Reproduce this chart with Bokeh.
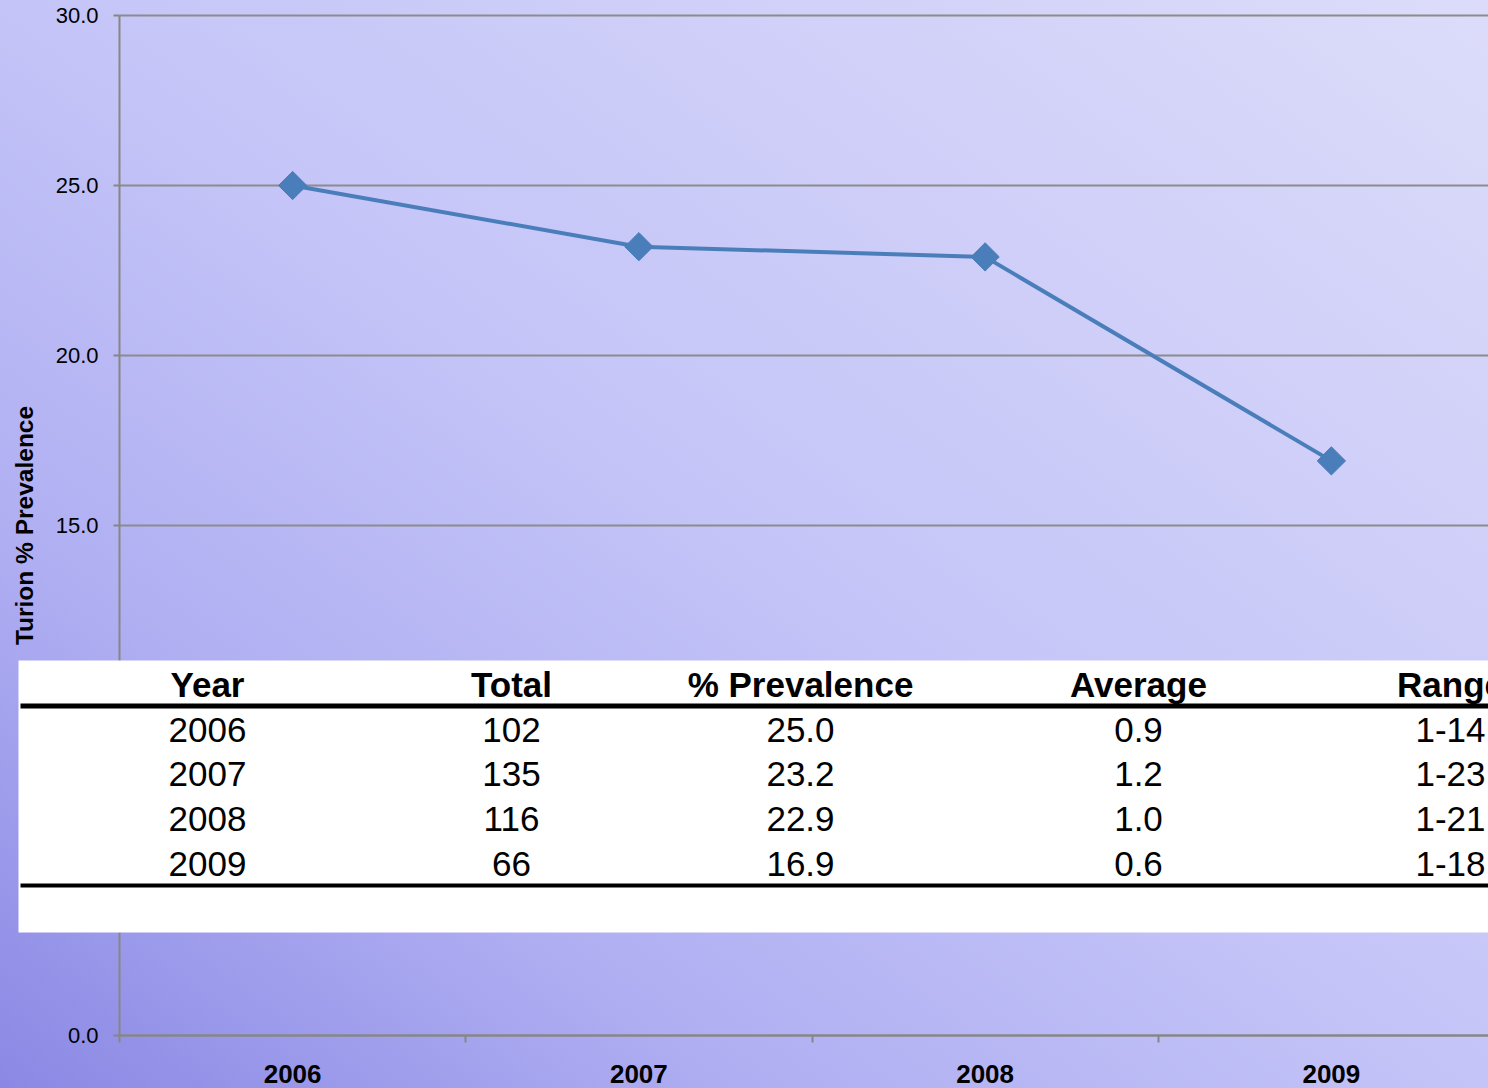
import numpy as np
from bokeh.plotting import figure
from bokeh.models import (Range1d, FixedTicker, BoxAnnotation, ColumnDataSource,
                          NumeralTickFormatter, LinearAxis, Grid)
from bokeh.core.properties import value
from bokeh.embed import file_html
from bokeh.resources import INLINE

# ---- data ----
years = ["2006", "2007", "2008", "2009"]
totals = [102, 135, 116, 66]
prevalence = [25.0, 23.2, 22.9, 16.9]
averages = [0.9, 1.2, 1.0, 0.6]
ranges_ = ["1-14", "1-23", "1-21", "1-18"]
headers = ["Year", "Total", "% Prevalence", "Average", "Range"]
y_ticks = [0, 5, 10, 15, 20, 25, 30]

# ---- layout (page pixels) ----
W, H = 1488, 1088
AX_X, AX_Y = 119, 1035   # pixel of (category start, y=0)
SLOT = 346.25            # px per category
YPX = 34.0               # px per y unit
FONT_NAME = "Liberation Sans"
FONT = value(FONT_NAME)
GRAY = "#868686"
GRID_COLOR = "#8c8c8c"

def dx(page_x):
    return (page_x - AX_X) / SLOT

def dy(page_y):
    return (AX_Y - page_y) / YPX

x_end = dx(W)

p = figure(width=W, height=H, output_backend="svg", toolbar_location=None,
           x_range=Range1d(dx(0), x_end), y_range=Range1d(dy(H), dy(0)),
           x_axis_location=None, y_axis_location=None,
           min_border=0,
           background_fill_color=None, border_fill_color=None,
           outline_line_color=None)
p.styles = {"background": "linear-gradient(to top right, #8a88e4 0%, #afaef2 25%, "
                          "#c4c4f8 50%, #d0d0f9 75%, #dcdcfa 100%)"}
# drop the default grids
p.center = [r for r in p.center if not isinstance(r, Grid)]

xs = [i + 0.5 for i in range(len(years))]
yticker = FixedTicker(ticks=y_ticks)

# horizontal grid lines, only to the right of the y axis
if "cross_bounds" in Grid.properties():
    p.add_layout(Grid(dimension=1, ticker=yticker, cross_bounds=(0, x_end),
                      grid_line_color=GRID_COLOR, grid_line_width=2))
else:
    p.segment(x0=0, x1=x_end + 1, y0=y_ticks, y1=y_ticks,
              line_color=GRID_COLOR, line_width=2, level="underlay")

# x axis
xaxis = LinearAxis(fixed_location=0, bounds=(0, x_end),
                   ticker=FixedTicker(ticks=xs, minor_ticks=list(range(len(years) + 1))),
                   major_label_overrides={x: y for x, y in zip(xs, years)},
                   major_tick_line_color=None, major_tick_out=0, major_tick_in=0,
                   minor_tick_out=7, minor_tick_in=0,
                   minor_tick_line_color=GRAY, minor_tick_line_width=2,
                   axis_line_color=GRAY, axis_line_width=2,
                   major_label_text_font=FONT_NAME, major_label_text_font_size="26px",
                   major_label_text_font_style="bold", major_label_text_color="black",
                   major_label_standoff=22)
p.add_layout(xaxis, "below")

# y axis
yaxis = LinearAxis(fixed_location=0, bounds=(0, 30), ticker=yticker,
                   formatter=NumeralTickFormatter(format="0.0"),
                   major_label_text_font=FONT_NAME, major_label_text_font_size="22px",
                   major_label_text_color="black",
                   major_tick_out=6, major_tick_in=0,
                   major_tick_line_color=GRAY, major_tick_line_width=2,
                   minor_tick_line_color=None,
                   axis_line_color=GRAY, axis_line_width=2,
                   major_label_standoff=15,
                   axis_label="Turion % Prevalence",
                   axis_label_text_font=FONT_NAME, axis_label_text_font_size="24.5px",
                   axis_label_text_font_style="bold", axis_label_text_color="black",
                   axis_label_standoff=15)
p.add_layout(yaxis, "left")

# series
src = ColumnDataSource(dict(x=xs, y=prevalence))
p.line("x", "y", source=src, line_width=4, line_color="#4a7ebb")
p.scatter("x", "y", source=src, marker="square", size=20, angle=np.pi / 4,
          fill_color="#4a7ebb", line_color="#4a7ebb")

# ---- table overlay ----
p.add_layout(BoxAnnotation(left=dx(18), right=x_end + 1, top=dy(660), bottom=dy(932),
                           fill_color="white", fill_alpha=1.0, line_color=None,
                           level="annotation"))
for top_px, bot_px in [(703, 708), (883, 887)]:
    p.add_layout(BoxAnnotation(left=dx(20), right=x_end + 1, top=dy(top_px), bottom=dy(bot_px),
                               fill_color="black", fill_alpha=1.0, line_color=None,
                               level="overlay"))

col_px = [207, 511, 800, 1138, 1450]
header_py = 684
row_py0, row_step = 729, 44.7

col_x = [dx(c) for c in col_px]
p.text(x=col_x, y=[dy(header_py)] * len(headers), text=headers,
       text_font=FONT, text_font_style="bold", text_font_size="35px",
       text_align="center", text_baseline="middle", text_color="black",
       level="overlay")

columns = [years, [str(t) for t in totals], [f"{v:.1f}" for v in prevalence],
           [f"{v:.1f}" for v in averages], ranges_]
cx, cy, ct = [], [], []
for ci, col in enumerate(columns):
    for ri, txt in enumerate(col):
        cx.append(col_x[ci])
        cy.append(dy(row_py0 + ri * row_step))
        ct.append(txt)
p.text(x=cx, y=cy, text=ct, text_font=FONT, text_font_size="35px",
       text_align="center", text_baseline="middle", text_color="black",
       level="overlay")

open("out.html", "w").write(file_html(p, INLINE))
